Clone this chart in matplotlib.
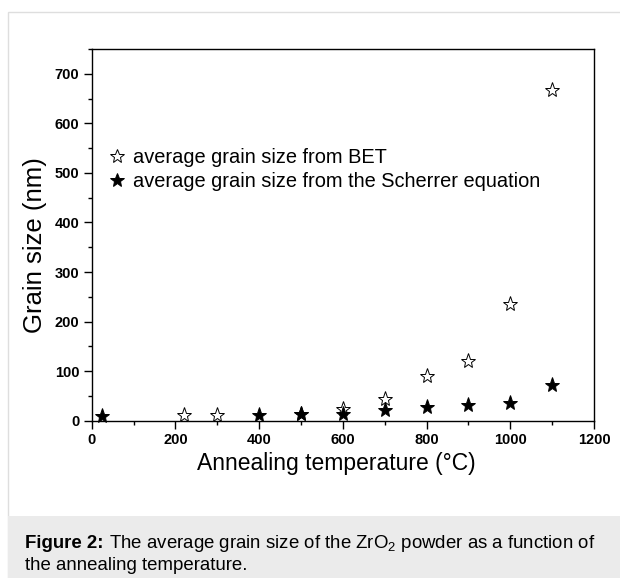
import matplotlib
matplotlib.use('Agg')
import matplotlib.pyplot as plt
from matplotlib.patches import Rectangle
from matplotlib.lines import Line2D
from matplotlib.ticker import MultipleLocator

plt.rcParams['font.family'] = ['Liberation Sans', 'DejaVu Sans']
plt.rcParams['mathtext.fontset'] = 'custom'
plt.rcParams['mathtext.rm'] = 'Liberation Sans'
plt.rcParams['mathtext.bf'] = 'Liberation Sans:bold'

# BET grain size (open stars)
bet_temp = [220, 300, 500, 600, 700, 800, 900, 1000, 1100]
bet_size = [11, 11, 13, 24, 43, 90, 121, 235, 667]

# Scherrer grain size (filled stars)
sch_temp = [25, 400, 500, 600, 700, 800, 900, 1000, 1100]
sch_size = [10, 11, 14, 13, 22, 28, 32, 36, 72]

bet_label = 'average grain size from BET'
sch_label = 'average grain size from the Scherrer equation'
xlab = 'Annealing temperature (\u00b0C)'
ylab = 'Grain size (nm)'
cap_bold = 'Figure 2:'
cap_line1 = ' The average grain size of the ZrO$_2$ powder as a function of'
cap_line2 = 'the annealing temperature.'

W, H = 620, 578
fig = plt.figure(figsize=(W/100, H/100), dpi=100)

# outer frame and caption band, behind everything
bg = fig.add_axes([0, 0, 1, 1], zorder=-10)
bg.set_xlim(0, W)
bg.set_ylim(H, 0)
bg.axis('off')
bg.add_patch(Rectangle((8, 12), W, H, fc='white', ec='#dedede', lw=1.0))
bg.add_patch(Rectangle((8, 516), W, H, fc='#ebebeb', ec='none'))

ax = fig.add_axes([91.7/W, 1 - 420.7/H, (594 - 91.7)/W, (420.7 - 49)/H])
ax.patch.set_alpha(0)

ax.plot(bet_temp, bet_size, linestyle='none', marker='*', ms=11,
        mfc='white', mec='black', mew=0.7, clip_on=False, zorder=3)
ax.plot(sch_temp, sch_size, linestyle='none', marker='*', ms=11,
        mfc='black', mec='black', mew=0.7, clip_on=False, zorder=4)

ax.set_xlim(0, 1200)
ax.set_ylim(0, 750)
ax.xaxis.set_major_locator(MultipleLocator(200))
ax.xaxis.set_minor_locator(MultipleLocator(100))
ax.yaxis.set_minor_locator(MultipleLocator(50))
ax.set_yticks(range(0, 701, 100))
ax.tick_params(which='major', direction='out', length=6, width=1.0,
               labelsize=10.5, pad=3)
ax.tick_params(which='minor', direction='out', length=3, width=1.0)
for lab in ax.get_xticklabels() + ax.get_yticklabels():
    lab.set_fontweight('bold')
for sp in ax.spines.values():
    sp.set_linewidth(1.0)

ax.set_xlabel(xlab, fontsize=16.5)
ax.xaxis.set_label_coords(0.487, -0.085)
ax.set_ylabel(ylab, fontsize=18.5)
ax.yaxis.set_label_coords(-0.088, 0.473)

handles = [
    Line2D([], [], linestyle='none', marker='*', ms=10, mfc='white', mec='black', mew=0.7),
    Line2D([], [], linestyle='none', marker='*', ms=10, mfc='black', mec='black', mew=0.7),
]
ax.legend(handles, [bet_label, sch_label], loc='upper left',
          bbox_to_anchor=(0.03, 0.735), frameon=False, fontsize=14.4,
          handlelength=1.0, handletextpad=0.3, labelspacing=0.27,
          borderpad=0, borderaxespad=0)

t0 = bg.text(25, 548, cap_bold, fontsize=13.4, fontweight='bold',
             va='baseline', ha='left')
fig.canvas.draw()
ext = t0.get_window_extent()
x1 = bg.transData.inverted().transform((ext.x1, ext.y0))[0]
bg.text(x1, 548, cap_line1, fontsize=13.4, va='baseline', ha='left')
bg.text(25, 570, cap_line2, fontsize=13.4, va='baseline', ha='left')

fig.savefig('out.png', dpi=100)
